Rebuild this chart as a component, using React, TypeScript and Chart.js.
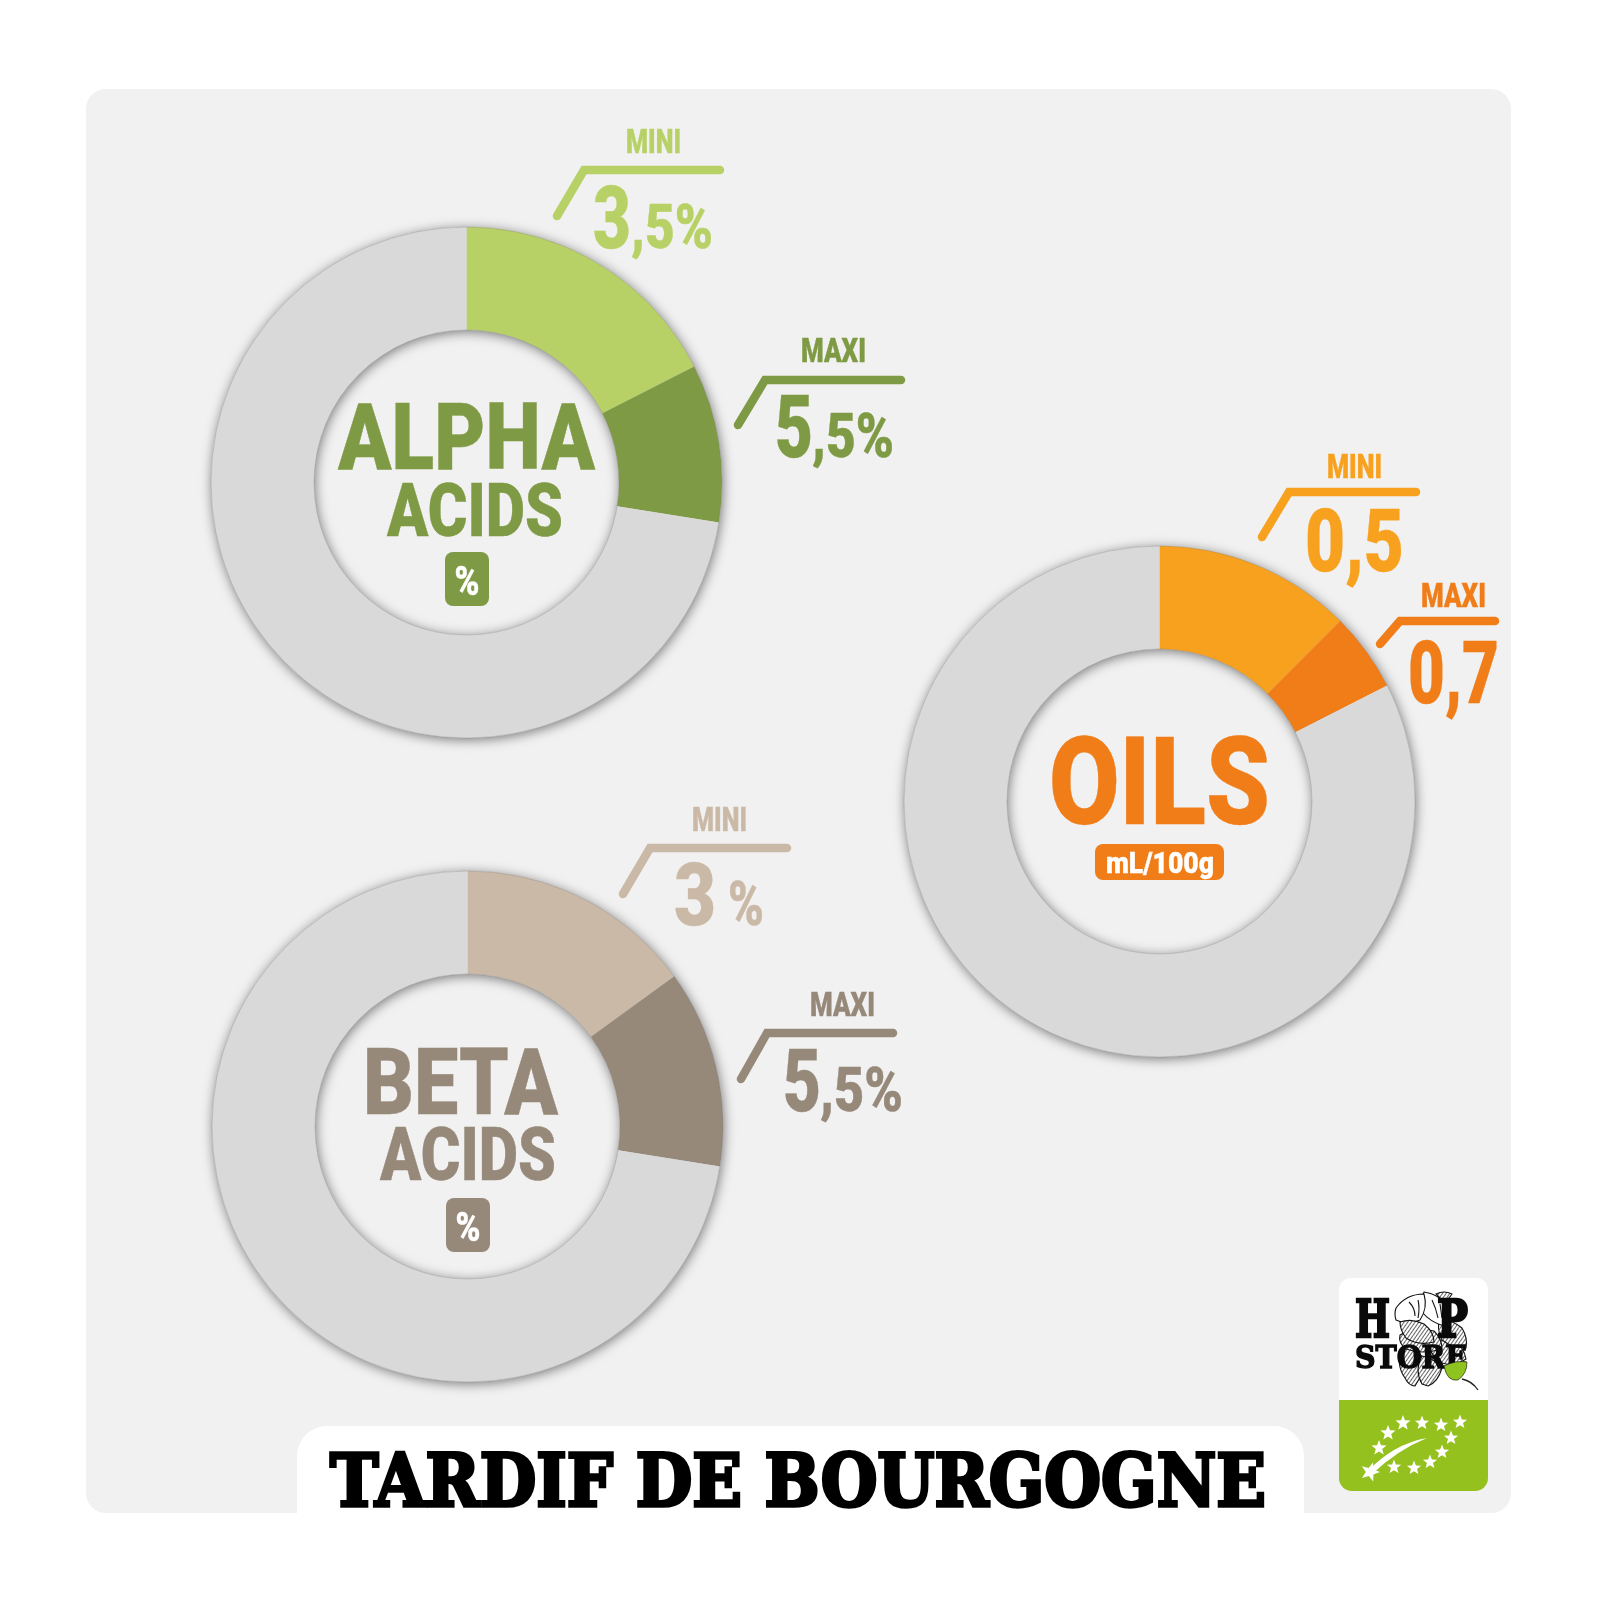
import React, { useEffect, useRef } from "react";
import { Chart, registerables } from "chart.js";

Chart.register(...registerables);

const segmentLabels = ["Mini", "Maxi", "Reste"];
const alphaSegments = [3.5, 2, 14.5];
const oilsSegments = [0.5, 0.2, 3.3];
const betaSegments = [3, 2.5, 14.5];

const GREY = "#d9d9d9";
const ALPHA_LIGHT = "#b8d166";
const ALPHA_DARK = "#7f9a44";
const OILS_LIGHT = "#f7a11e";
const OILS_DARK = "#f07d18";
const BETA_LIGHT = "#cbb9a7";
const BETA_DARK = "#96897a";

const CANVAS = 551;
const ringShadow = {
  id: "ringShadow",
  beforeDatasetsDraw(chart: any) {
    const arc = chart.getDatasetMeta(0).data[0];
    const { ctx } = chart;
    ctx.save();
    ctx.shadowColor = "rgba(0,0,0,0.5)";
    ctx.shadowBlur = 12;
    ctx.shadowOffsetX = 1;
    ctx.shadowOffsetY = 2;
    ctx.fillStyle = GREY;
    ctx.beginPath();
    ctx.arc(arc.x, arc.y, arc.outerRadius, 0, Math.PI * 2);
    ctx.arc(arc.x, arc.y, arc.innerRadius, 0, Math.PI * 2, true);
    ctx.fill();
    ctx.restore();
  },
  afterDatasetsDraw(chart: any) {
    const arc = chart.getDatasetMeta(0).data[0];
    const { ctx } = chart;
    ctx.save();
    ctx.strokeStyle = "rgba(120,120,120,0.28)";
    ctx.lineWidth = 1;
    ctx.beginPath();
    ctx.arc(arc.x, arc.y, arc.outerRadius, 0, Math.PI * 2);
    ctx.stroke();
    ctx.beginPath();
    ctx.arc(arc.x, arc.y, arc.innerRadius, 0, Math.PI * 2);
    ctx.stroke();
    ctx.restore();
  },
};

function Ring({ cx, cy, data, colors }: { cx: number; cy: number; data: number[]; colors: string[] }) {
  const ref = useRef<HTMLCanvasElement>(null);
  useEffect(() => {
    const chart = new Chart(ref.current as HTMLCanvasElement, {
      type: "doughnut",
      data: {
        labels: segmentLabels,
        datasets: [{ data, backgroundColor: colors, borderWidth: 0 }],
      },
      options: {
        responsive: false,
        animation: false,
        cutout: "59.7%",
        rotation: 0,
        layout: { padding: 20 },
        plugins: { legend: { display: false }, tooltip: { enabled: false } },
      },
      plugins: [ringShadow],
    } as any);
    return () => chart.destroy();
  }, []);
  return (
    <canvas
      ref={ref}
      width={CANVAS}
      height={CANVAS}
      style={{ position: "absolute", left: cx - CANVAS / 2, top: cy - CANVAS / 2, width: CANVAS, height: CANVAS }}
    />
  );
}

const RB = "Roboto, 'Liberation Sans', sans-serif";

function T({ x, y, w, s, c, t, anchor = "start", weight = 900, family = RB, sw = 0.4 }: any) {
  return (
    <text
      x={x}
      y={y}
      fontFamily={family}
      fontWeight={weight}
      fontSize={s}
      fill={c}
      stroke={sw ? c : undefined}
      strokeWidth={sw || undefined}
      textAnchor={anchor}
      textLength={w}
      lengthAdjust="spacingAndGlyphs"
    >
      {t}
    </text>
  );
}

function Bracket({ pts, c, sw = 8.5 }: { pts: string; c: string; sw?: number }) {
  return <polyline points={pts} fill="none" stroke={c} strokeWidth={sw} strokeLinecap="round" strokeLinejoin="miter" />;
}

function Star({ x, y, r, rot = 0 }: { x: number; y: number; r: number; rot?: number }) {
  const p: string[] = [];
  for (let i = 0; i < 10; i++) {
    const a = (Math.PI * i) / 5 - Math.PI / 2 + rot;
    const q = i % 2 ? r * 0.42 : r;
    p.push(`${(x + q * Math.cos(a)).toFixed(1)},${(y + q * Math.sin(a)).toFixed(1)}`);
  }
  return <polygon points={p.join(" ")} fill="#fff" />;
}

const SLAB = "'DejaVu Serif', 'Liberation Serif', serif";

function Logo() {
  return (
    <g>
      <defs>
        <pattern id="hatch" width={3} height={3} patternUnits="userSpaceOnUse" patternTransform="rotate(35)">
          <rect width={3} height={3} fill="#fff" />
          <line x1={0} y1={0} x2={0} y2={3} stroke="#111" strokeWidth={1.3} />
        </pattern>
      </defs>
      <path d="M1339 1400 V1290 a12 12 0 0 1 12 -12 H1476 a12 12 0 0 1 12 12 V1400 Z" fill="#fff" />
      <path d="M1339 1400 H1488 V1478 a13 13 0 0 1 -13 13 H1352 a13 13 0 0 1 -13 -13 Z" fill="#95c11f" />
      <g stroke="#111" strokeWidth={1.1} fill="url(#hatch)">
        <path d="M1405 1378 q-10 -14 -2 -30 q14 0 22 12 q-2 14 -10 26 q-6 0 -10 -8 Z" />
        <path d="M1422 1384 q-8 -14 0 -28 q12 2 20 12 q-4 14 -14 18 Z" />
        <path d="M1428 1345 q16 -8 26 -4 q10 6 12 18 q-12 8 -24 4 q-10 -6 -14 -18 Z" />
        <path d="M1440 1318 q12 2 22 10 q6 10 4 20 q-14 0 -24 -8 q-6 -12 -2 -22 Z" />
        <path d="M1400 1335 q14 -8 34 -4 q8 8 8 18 q-20 6 -36 0 q-8 -6 -6 -14 Z" />
        <path d="M1424 1292 q14 2 22 12 q4 12 -2 22 q-14 -4 -22 -14 q-2 -12 2 -20 Z" fill="#fff" />
        <path d="M1396 1308 q10 -14 28 -14 q4 14 -4 26 q-12 6 -24 0 q-2 -6 0 -12 Z" fill="#fff" />
        <path d="M1400 1322 q12 -4 24 2 q10 8 10 18 q-16 4 -28 -4 q-6 -8 -6 -16 Z" fill="url(#hatch)" />
        <path d="M1436 1294 q8 -4 16 0 q-4 6 -8 8 Z" />
        <path d="M1409 1302 q6 6 6 14 M1418 1300 q2 8 0 18 M1432 1300 q4 8 6 18 M1440 1304 l2 14" fill="none" />
      </g>
      <T x={1355} y={1337} w={35} s={52} c="#0a0a0a" t="H" family={SLAB} sw={2.5} />
      <T x={1437} y={1337} w={31} s={52} c="#0a0a0a" t="P" family={SLAB} sw={2.5} />
      <T x={1355} y={1368} w={112} s={31} c="#0a0a0a" t="STORE" family={SLAB} sw={1.4} />
      <path d="M1444 1366 q12 -6 23 -4 q0 12 -9 18 q-11 2 -14 -14 Z" fill="#8fc31f" stroke="#111" strokeWidth={0.6} />
      <path d="M1462 1379 q10 2 16 11" fill="none" stroke="#222" strokeWidth={1.3} />
      <path d="M1367 1472 q26 -28 60 -34 q-30 12 -56 37 Z" fill="#fff" />
      <Star x={1370} y={1472} r={10} rot={0.3} />
      <Star x={1379} y={1448} r={8} />
      <Star x={1388} y={1433} r={8} />
      <Star x={1403} y={1423} r={8} />
      <Star x={1422} y={1423} r={7.5} />
      <Star x={1441} y={1425} r={7.5} />
      <Star x={1460} y={1422} r={7.5} />
      <Star x={1451} y={1438} r={7.5} />
      <Star x={1442} y={1452} r={7.5} />
      <Star x={1430} y={1462} r={7.5} />
      <Star x={1414} y={1468} r={7.5} />
      <Star x={1394} y={1467} r={7.5} />
    </g>
  );
}

export default function App() {
  return (
    <div style={{ position: "absolute", left: 0, top: 0, width: 1600, height: 1600, background: "#fff", overflow: "hidden" }}>
      <div style={{ position: "absolute", left: 86, top: 89, width: 1425, height: 1424, background: "#f1f1f1", borderRadius: 20 }} />
      <div style={{ position: "absolute", left: 297, top: 1426, width: 1007, height: 87, background: "#fff", borderRadius: "30px 30px 0 0" }} />
      <Ring cx={466.5} cy={482.5} data={alphaSegments} colors={[ALPHA_LIGHT, ALPHA_DARK, GREY]} />
      <Ring cx={1159.5} cy={801.5} data={oilsSegments} colors={[OILS_LIGHT, OILS_DARK, GREY]} />
      <Ring cx={467.5} cy={1126.5} data={betaSegments} colors={[BETA_LIGHT, BETA_DARK, GREY]} />
      <svg width={1600} height={1600} style={{ position: "absolute", left: 0, top: 0 }}>
        {/* ALPHA */}
        <T x={338} y={469} w={257} s={93} c={ALPHA_DARK} t="ALPHA" />
        <T x={387} y={536} w={176} s={74} c={ALPHA_DARK} t="ACIDS" />
        <rect x={445} y={552} width={44} height={54} rx={8} fill={ALPHA_DARK} />
        <T x={467} y={595} s={40} c="#fff" t="%" anchor="middle" w={25} />
        <T x={626} y={153} w={55} s={33} c={ALPHA_LIGHT} t="MINI" />
        <Bracket pts="557,216 584,170 720,170" c={ALPHA_LIGHT} />
        <T x={593} y={248} w={38} s={87} c={ALPHA_LIGHT} t="3" />
        <T x={631} y={248} w={82} s={61} c={ALPHA_LIGHT} t=",5%" />
        <T x={801} y={362} w={65} s={33} c={ALPHA_DARK} t="MAXI" />
        <Bracket pts="738,425 765,380 901,380" c={ALPHA_DARK} />
        <T x={775} y={457} w={38} s={87} c={ALPHA_DARK} t="5" />
        <T x={812} y={457} w={82} s={61} c={ALPHA_DARK} t=",5%" />
        {/* OILS */}
        <T x={1049} y={824} w={221} s={123} c={OILS_DARK} t="OILS" />
        <rect x={1095} y={844} width={129} height={36} rx={8} fill={OILS_DARK} />
        <T x={1160} y={873} w={108} s={29} c="#fff" t="mL/100g" anchor="middle" />
        <T x={1327} y={478} w={55} s={33} c={OILS_LIGHT} t="MINI" />
        <Bracket pts="1262,537 1289,492 1416,492" c={OILS_LIGHT} />
        <T x={1305} y={571} w={99} s={88} c={OILS_LIGHT} t="0,5" />
        <T x={1421} y={607} w={65} s={33} c={OILS_DARK} t="MAXI" />
        <Bracket pts="1380,644 1400,621 1495,621" c={OILS_DARK} />
        <T x={1408} y={703} w={91} s={88} c={OILS_DARK} t="0,7" />
        {/* BETA */}
        <T x={363} y={1114} w={195} s={93} c={BETA_DARK} t="BETA" />
        <T x={380} y={1180} w={176} s={74} c={BETA_DARK} t="ACIDS" />
        <rect x={446} y={1198} width={44} height={54} rx={8} fill={BETA_DARK} />
        <T x={468} y={1241} s={40} c="#fff" t="%" anchor="middle" w={25} />
        <T x={692} y={831} w={55} s={33} c={BETA_LIGHT} t="MINI" />
        <Bracket pts="623,894 650,848 787,848" c={BETA_LIGHT} />
        <T x={674} y={925} w={42} s={87} c={BETA_LIGHT} t="3" />
        <T x={728} y={925} w={36} s={61} c={BETA_LIGHT} t="%" />
        <T x={810} y={1016} w={65} s={33} c={BETA_DARK} t="MAXI" />
        <Bracket pts="741,1079 767,1033 893,1033" c={BETA_DARK} />
        <T x={783} y={1111} w={38} s={87} c={BETA_DARK} t="5" />
        <T x={820} y={1111} w={83} s={61} c={BETA_DARK} t=",5%" />
        {/* Title */}
        <T x={330} y={1506} w={936} s={72} c="#000" t="TARDIF DE BOURGOGNE" family={SLAB} weight={700} sw={3.5} />
        <Logo />
      </svg>
    </div>
  );
}
